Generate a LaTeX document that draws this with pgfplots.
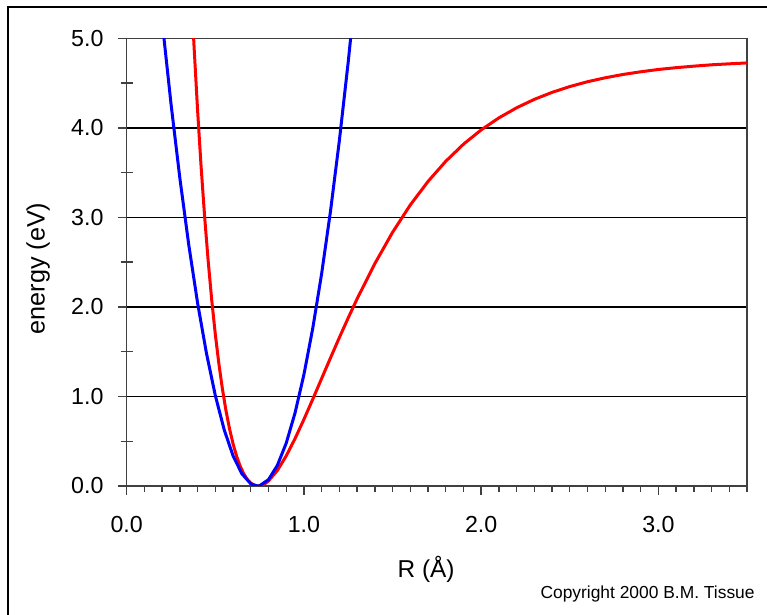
\documentclass[border=0pt]{standalone}
\usepackage{pgfplots}
\pgfplotsset{compat=1.18}
\usepackage{fontspec}
\setmainfont{Liberation Sans}
\begin{document}
\begin{tikzpicture}
\useasboundingbox (-63.35pt,-64.5pt) rectangle (320.15pt,243pt);
\begin{axis}[
  at={(0,0)}, anchor=south west,
  scale only axis, width=310.15pt, height=223.85pt,
  xmin=0, xmax=3.5, ymin=0, ymax=5,
  tick pos=left,
  xtick={0,1,2,3}, ytick={0,1,2,3,4,5},
  minor xtick={0.1,0.2,0.3,0.4,0.5,0.6,0.7,0.8,0.9,1.1,1.2,1.3,1.4,1.5,1.6,1.7,1.8,1.9,2.1,2.2,2.3,2.4,2.5,2.6,2.7,2.8,2.9,3.1,3.2,3.3,3.4,3.5},
  tick align=outside, major tick length=4.4pt, minor tick length=3pt,
  ymajorgrids, grid style={black, line width=0.75pt},
  axis line style={black!75, line width=0.8pt},
  every tick/.style={black!75, line width=0.7pt},
  font=\fontsize{11.6}{13}\selectfont,
  /pgf/number format/assume math mode=true,
  /pgf/number format/fixed,
  /pgf/number format/fixed zerofill,
  /pgf/number format/precision=1,
  xticklabel style={anchor=north, inner sep=0pt, yshift=-10.8pt},
  yticklabel style={anchor=east, inner sep=0pt, xshift=-7pt},
  xlabel={R (Å)},
  ylabel={energy (eV)},
  xlabel style={at={(axis description cs:0.4827,-0.2055)}, anchor=base, inner sep=0pt, font=\fontsize{12.2}{14}\selectfont},
  ylabel style={at={(axis description cs:-0.1430,0.4858)}, anchor=center, inner sep=0pt, font=\fontsize{12.6}{14}\selectfont},
]
\addplot[red, line width=1.5pt, mark=none] coordinates {
(0.36,5.71) (0.38,4.909) (0.40,4.195) (0.42,3.561) (0.44,3.000) (0.46,2.507)
(0.48,2.073) (0.50,1.694) (0.52,1.367) (0.54,1.085) (0.56,0.844) (0.58,0.641)
(0.60,0.472) (0.62,0.334) (0.64,0.223) (0.66,0.138) (0.68,0.075) (0.70,0.033)
(0.72,0.008) (0.74,0.000) (0.76,0.006) (0.78,0.025) (0.80,0.056) (0.85,0.173)
(0.90,0.336) (0.95,0.530) (1.00,0.744) (1.05,0.970) (1.10,1.201) (1.15,1.431)
(1.20,1.658) (1.25,1.878) (1.30,2.090) (1.40,2.483) (1.50,2.833) (1.60,3.138)
(1.70,3.401) (1.80,3.626) (1.90,3.817) (2.00,3.977) (2.10,4.111) (2.20,4.224)
(2.30,4.318) (2.40,4.396) (2.50,4.461) (2.60,4.515) (2.70,4.559) (2.80,4.596)
(2.90,4.626) (3.00,4.652) (3.10,4.672) (3.20,4.689) (3.30,4.704) (3.40,4.715)
(3.50,4.725)
};
\addplot[blue, line width=1.5pt, mark=none] coordinates {
(0.20,5.19) (0.25,4.269) (0.30,3.437) (0.35,2.696) (0.40,2.044) (0.45,1.483)
(0.50,1.011) (0.55,0.629) (0.60,0.338) (0.65,0.136) (0.70,0.025) (0.737,0.000)
(0.75,0.003) (0.80,0.071) (0.85,0.230) (0.90,0.478) (0.95,0.817) (1.00,1.245)
(1.05,1.763) (1.10,2.372) (1.15,3.070) (1.20,3.859) (1.25,4.737) (1.30,5.706)
};
\end{axis}
\begin{axis}[
  at={(0,0)}, anchor=south west,
  scale only axis, width=310.15pt, height=223.85pt,
  xmin=0, xmax=3.5, ymin=0, ymax=5,
  axis x line=none, axis y line*=left,
  xtick=\empty, ytick={0.5,1.5,2.5,3.5,4.5}, yticklabels={},
  tick align=center, major tick length=6pt,
  axis line style={black!75, line width=0.8pt},
  every tick/.style={black!75, line width=0.7pt},
]
\end{axis}
\draw[black, line width=1pt] (-59.35pt,-90pt) -- (-59.35pt,239.5pt) -- (340pt,239.5pt);
\node[anchor=base east, inner sep=0pt, font=\fontsize{8.7}{10}\selectfont] at (314.15pt,-56.5pt) {Copyright 2000 B.M. Tissue};
\end{tikzpicture}
\end{document}
